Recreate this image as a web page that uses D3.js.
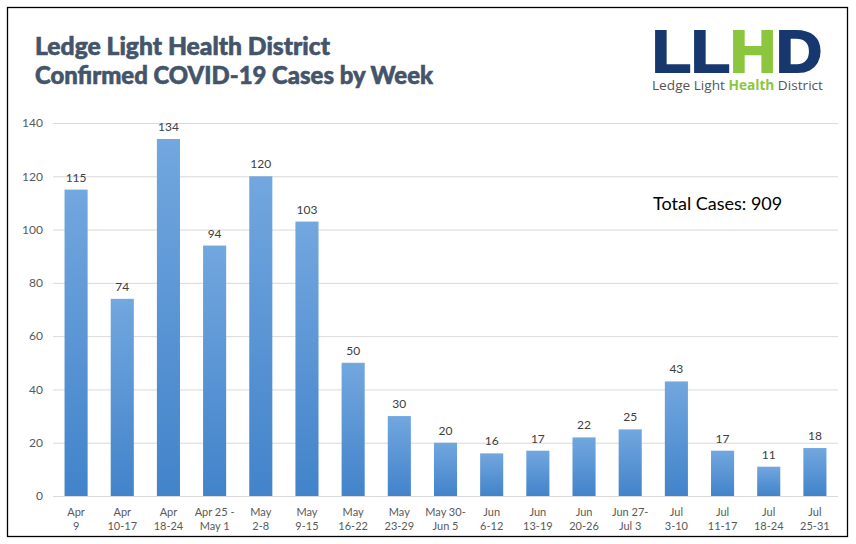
<!DOCTYPE html>
<html>
<head>
<meta charset="utf-8">
<script src="https://cdn.jsdelivr.net/npm/d3@7"></script>
<style>
  body { margin: 0; background: #fff; }
  text { font-family: Lato, "Open Sans", sans-serif; }
</style>
</head>
<body>
<div id="chart"></div>
<script>
// week labels (two lines each) and confirmed cases
const weekLine1 = ["Apr", "Apr", "Apr", "Apr 25 -", "May", "May", "May", "May", "May 30-",
    "Jun", "Jun", "Jun", "Jun 27-", "Jul", "Jul", "Jul", "Jul"];
const weekLine2 = ["9", "10-17", "18-24", "May 1", "2-8", "9-15", "16-22", "23-29", "Jun 5",
    "6-12", "13-19", "20-26", "Jul 3", "3-10", "11-17", "18-24", "25-31"];
const cases = [115, 74, 134, 94, 120, 103, 50, 30, 20, 16, 17, 22, 25, 43, 17, 11, 18];
const yTicks = [0, 20, 40, 60, 80, 100, 120, 140];

const width = 856, height = 544;
const plot = { left: 53, right: 838, top: 123, bottom: 496 };

const svg = d3.select("#chart")
    .append("svg")
    .attr("width", width)
    .attr("height", height);

// gradient for bars
const grad = svg.append("defs").append("linearGradient")
    .attr("id", "barGrad")
    .attr("x1", 0).attr("y1", 0).attr("x2", 0).attr("y2", 1);
grad.append("stop").attr("offset", "0%").attr("stop-color", "#72a7df");
grad.append("stop").attr("offset", "100%").attr("stop-color", "#4283ca");

// outer frame
svg.append("rect")
    .attr("x", 7.5).attr("y", 7.5)
    .attr("width", 840).attr("height", 529)
    .attr("fill", "none")
    .attr("stroke", "#000")
    .attr("stroke-width", 1.3);

const idx = d3.range(cases.length);

const x = d3.scaleBand()
    .domain(idx)
    .range([plot.left, plot.right])
    .paddingInner(0.5)
    .paddingOuter(0.25);

const y = d3.scaleLinear()
    .domain([0, 140])
    .range([plot.bottom, plot.top]);

// gridlines + y labels
const yAxis = svg.append("g")
    .attr("transform", `translate(${plot.left},0)`)
    .call(d3.axisLeft(y).tickValues(yTicks).tickSize(-(plot.right - plot.left)).tickPadding(10));
yAxis.select(".domain").remove();
yAxis.selectAll(".tick line").attr("stroke", "#d9d9d9");
yAxis.selectAll(".tick text")
    .attr("fill", "#595959")
    .style("font-size", "12px")
    .style("font-family", "Lato, sans-serif");

// bars
svg.append("g").selectAll("rect")
    .data(idx)
    .join("rect")
    .attr("x", i => x(i))
    .attr("width", x.bandwidth())
    .attr("y", i => y(cases[i]))
    .attr("height", i => y(0) - y(cases[i]))
    .attr("fill", "url(#barGrad)");

// value labels
svg.append("g").selectAll("text")
    .data(idx)
    .join("text")
    .attr("x", i => x(i) + x.bandwidth() / 2)
    .attr("y", i => y(cases[i]) - 8)
    .attr("text-anchor", "middle")
    .attr("fill", "#404040")
    .style("font-size", "12px")
    .text(i => cases[i]);

// x labels
const xl = svg.append("g").selectAll("text")
    .data(idx)
    .join("text")
    .attr("text-anchor", "middle")
    .attr("fill", "#595959")
    .style("font-size", "11px");
xl.append("tspan")
    .attr("x", i => x(i) + x.bandwidth() / 2)
    .attr("y", 516)
    .text(i => weekLine1[i]);
xl.append("tspan")
    .attr("x", i => x(i) + x.bandwidth() / 2)
    .attr("y", 530)
    .text(i => weekLine2[i]);

// title (heavy, slightly stroked to mimic the black weight)
const title = svg.append("g")
    .attr("fill", "#44546a")
    .attr("stroke", "#44546a")
    .attr("stroke-width", 0.6)
    .style("font-weight", 900)
    .style("font-size", "24px");
title.append("text").attr("x", 35).attr("y", 55)
    .attr("textLength", 295).attr("lengthAdjust", "spacingAndGlyphs")
    .text("Ledge Light Health District");
title.append("text").attr("x", 35).attr("y", 84)
    .attr("textLength", 398).attr("lengthAdjust", "spacingAndGlyphs")
    .text("Confirmed COVID-19 Cases by Week");

// total
svg.append("text")
    .attr("x", 653).attr("y", 210)
    .attr("fill", "#000")
    .style("font-size", "18px")
    .text("Total Cases: 909");

// logo
const logo = svg.append("g");
const big = logo.append("text")
    .attr("x", 652).attr("y", 72)
    .attr("textLength", 170)
    .attr("lengthAdjust", "spacingAndGlyphs")
    .attr("stroke-width", 2.2)
    .style("font-family", "'Liberation Sans', Arial, sans-serif")
    .style("font-weight", 700)
    .style("font-size", "59px");
big.append("tspan").attr("fill", "#17386f").attr("stroke", "#17386f").text("LL");
big.append("tspan").attr("fill", "#8cc63e").attr("stroke", "#8cc63e").text("H");
big.append("tspan").attr("fill", "#17386f").attr("stroke", "#17386f").text("D");

const small = logo.append("text")
    .attr("x", 652).attr("y", 90)
    .attr("textLength", 171)
    .attr("lengthAdjust", "spacingAndGlyphs")
    .style("font-family", "'Open Sans', sans-serif")
    .style("font-size", "13.5px")
    .attr("fill", "#555");
small.append("tspan").text("Ledge Light ");
small.append("tspan").attr("fill", "#8cc63e").style("font-weight", 700).text("Health");
small.append("tspan").text(" District");
</script>
</body>
</html>
